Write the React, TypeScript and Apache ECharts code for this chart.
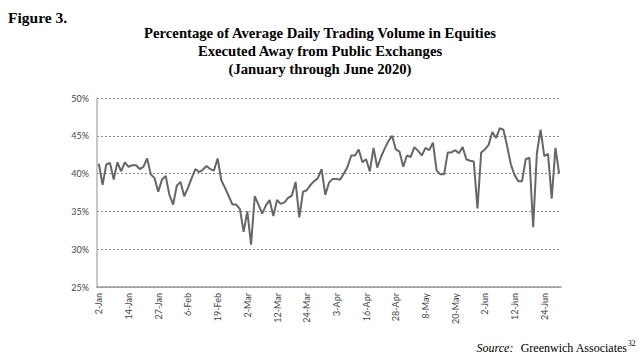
import React, { useEffect, useRef } from "react";
import * as echarts from "echarts";

// Non-trading days (besides weekends) in Jan–Jun 2020
const holidays = ["2020-01-01", "2020-01-20", "2020-02-17", "2020-04-10", "2020-05-25"];
const monthNames = ["Jan", "Feb", "Mar", "Apr", "May", "Jun"];

function tradingDays(): string[] {
  const out: string[] = [];
  const d = new Date(Date.UTC(2020, 0, 2));
  const end = new Date(Date.UTC(2020, 5, 30));
  while (d <= end) {
    const iso = d.toISOString().slice(0, 10);
    const wd = d.getUTCDay();
    if (wd !== 0 && wd !== 6 && holidays.indexOf(iso) < 0) {
      out.push(d.getUTCDate() + "-" + monthNames[d.getUTCMonth()]);
    }
    d.setUTCDate(d.getUTCDate() + 1);
  }
  return out;
}

const categories = tradingDays();

// Percentage of ADV executed away from public exchanges
const janFebValues = [
  41.3, 38.5, 41.2, 41.4, 39.2, 41.5, 40.3, 41.5, 40.9, 41.1,
  41.1, 40.6, 40.9, 42.0, 39.9, 39.4, 37.6, 39.2, 39.7, 37.2,
  35.9, 38.4, 38.9, 37.0, 38.1, 39.4, 40.6, 40.2, 40.5, 41.0,
  40.6, 40.4, 42.0, 39.1, 38.1, 37.0, 35.9, 35.9, 35.3, 32.3,
];
const marAprValues = [
  35.0, 30.6, 37.0, 35.9, 34.7, 35.8, 36.5, 34.4, 36.5, 36.0,
  36.2, 36.8, 37.1, 38.9, 34.2, 37.6, 37.8, 38.5, 39.0, 39.4,
  40.6, 37.2, 38.8, 39.3, 39.3, 39.2, 40.0, 40.9, 42.4, 42.4,
  43.2, 41.5, 41.9, 40.3, 43.4, 40.8, 42.2, 43.3, 44.3, 45.0,
  43.2, 42.9, 40.9,
];
const mayJunValues = [
  42.4, 42.2, 43.5, 43.0, 42.4, 43.4, 43.1, 44.1, 40.4, 39.9,
  39.9, 42.8, 42.8, 43.1, 42.7, 43.5, 41.9, 41.7, 41.6, 35.4,
  42.8, 43.2, 43.8, 45.5, 44.7, 46.0, 45.8, 43.6, 41.2, 39.8,
  39.0, 39.0, 41.9, 42.1, 32.9, 42.7, 45.8, 42.3, 42.6, 36.7,
  43.4, 40.0,
];
const values = [...janFebValues, ...marAprValues, ...mayJunValues];

const yTicks = [25, 30, 35, 40, 45, 50];

const figureLabel = "Figure 3.";
const titleLines = [
  "Percentage of Average Daily Trading Volume in Equities",
  "Executed Away from Public Exchanges",
  "(January through June 2020)",
];

export default function App() {
  const ref = useRef<HTMLDivElement>(null);
  useEffect(() => {
    if (!ref.current) return;
    const chart = echarts.init(ref.current, null, { renderer: "svg" });
    const serif = "'Liberation Serif', 'Times New Roman', serif";
    const sans = "Lato, 'Noto Sans', sans-serif";
    const titleTexts = titleLines.map((t, i) => ({
      type: "text",
      x: 320,
      y: 33 + i * 18,
      style: {
        text: t,
        fontFamily: serif,
        fontWeight: "bold",
        fontSize: 14.7,
        fill: "#000",
        textAlign: "center",
        textVerticalAlign: "middle",
      },
    }));
    chart.setOption({
      animation: false,
      backgroundColor: "#ffffff",
      grid: { left: 97, right: 78, top: 98, bottom: 70, containLabel: false },
      xAxis: {
        type: "category",
        data: categories,
        boundaryGap: true,
        axisLine: { show: true, lineStyle: { color: "#9a9a9a", width: 1.5 } },
        axisTick: { show: false },
        axisLabel: {
          interval: 7,
          rotate: 90,
          margin: 6,
          fontFamily: sans,
          fontSize: 9,
          color: "#444",
        },
        splitLine: { show: false },
      },
      yAxis: {
        type: "value",
        min: yTicks[0],
        max: yTicks[yTicks.length - 1],
        interval: 5,
        axisLine: { show: true, lineStyle: { color: "#b5b5b5", width: 1.5 } },
        axisTick: { show: false },
        axisLabel: {
          formatter: "{value}%",
          margin: 8,
          fontFamily: sans,
          fontSize: 9,
          color: "#444",
        },
        splitLine: {
          show: true,
          lineStyle: { color: "#8a8a8a", type: [2, 2], width: 1 },
        },
      },
      series: [
        {
          type: "line",
          data: values,
          showSymbol: false,
          symbol: "none",
          lineStyle: { color: "#666666", width: 2 },
        },
      ],
      graphic: [
        {
          type: "text",
          x: 8,
          y: 17,
          style: {
            text: figureLabel,
            fontFamily: serif,
            fontWeight: "bold",
            fontSize: 15.5,
            fill: "#000",
            textAlign: "left",
            textVerticalAlign: "middle",
          },
        },
        ...titleTexts,
        {
          type: "text",
          x: 627,
          y: 348,
          style: {
            text: "{i|Source:}  {n|Greenwich Associates}",
            textAlign: "right",
            textVerticalAlign: "middle",
            rich: {
              i: { fontFamily: serif, fontStyle: "italic", fontSize: 12, fill: "#000" },
              n: { fontFamily: serif, fontSize: 12, fill: "#000" },
            },
          },
        },
        {
          type: "text",
          x: 628,
          y: 343,
          style: {
            text: "32",
            fontFamily: serif,
            fontSize: 7.5,
            fill: "#000",
            textAlign: "left",
            textVerticalAlign: "middle",
          },
        },
      ],
    });
    return () => chart.dispose();
  }, []);
  return (
    <div
      ref={ref}
      style={{ position: "fixed", left: 0, top: 0, width: 639, height: 357, background: "#fff" }}
    />
  );
}
